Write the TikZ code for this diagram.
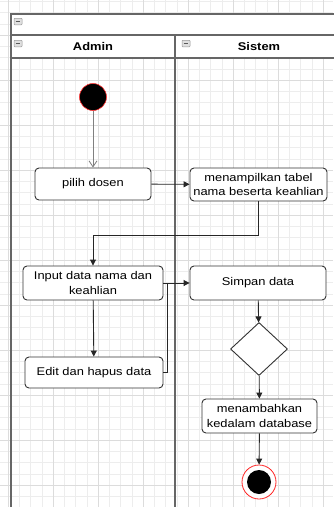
\documentclass[tikz,border=0pt]{standalone}
\usepackage{fontspec}
\setmainfont{Liberation Sans}
\newfontfamily\lab[FakeStretch=1.15]{Liberation Sans}
\usetikzlibrary{shapes.geometric,arrows.meta}
\definecolor{gridmin}{HTML}{EDEDED}
\definecolor{gridmaj}{HTML}{DCDCDC}
\definecolor{lanecol}{HTML}{666666}
\definecolor{boxcol}{HTML}{333333}
\tikzset{
  actbox/.style={draw=boxcol,line width=0.9pt,fill=white,rounded corners=4pt,align=center,
    font=\lab\fontsize{11.2}{14.5}\selectfont,text=black,inner sep=1pt},
  conn/.style={draw=black!85,line width=0.9pt,-{Triangle[length=6pt,width=6pt]}},
  lane/.style={draw=lanecol,line width=1.6pt},
  hdr/.style={font=\lab\bfseries\fontsize{11.2}{13}\selectfont,text=black},
  minbox/.style={draw=gray!80,fill=gray!25,line width=0.5pt,rounded corners=0.8pt,minimum width=8pt,minimum height=6.5pt,inner sep=0pt}
}
\begin{document}
\begin{tikzpicture}[x=1pt,y=-1pt]
\useasboundingbox[fill=white] (0,0) rectangle (333,507);
% grid
\foreach \i in {0,...,29} {
  \pgfmathsetmacro{\xx}{8+11.25*\i}
  \draw[gridmin,line width=0.5pt] (\xx,0) -- (\xx,507);
}
\foreach \i in {0,...,45} {
  \pgfmathsetmacro{\yy}{1.25+11.25*\i}
  \draw[gridmin,line width=0.5pt] (0,\yy) -- (333,\yy);
}
\foreach \i in {0,...,7} {
  \pgfmathsetmacro{\xx}{8+45*\i}
  \draw[gridmaj,line width=0.6pt] (\xx,0) -- (\xx,507);
}
\foreach \i in {0,...,11} {
  \pgfmathsetmacro{\yy}{35+45*(\i-1)}
  \draw[gridmaj,line width=0.6pt] (0,\yy) -- (333,\yy);
}
% pool
\fill[white] (11,14) rectangle (334,58);
\draw[lane] (334,14) -- (11,14) -- (11,508);
\draw[lane] (11,35) -- (334,35);
\draw[lane] (11,58) -- (334,58);
\draw[lane] (175,35) -- (175,508);
\node[minbox] (ic0) at (18,21.5) {};
\node[minbox] (ic1) at (18,43.5) {};
\node[minbox] (ic2) at (186,43.5) {};
\foreach \n in {ic0,ic1,ic2} \draw[gray!70!black,line width=0.6pt] ([xshift=1.8pt]\n.west) -- ([xshift=-1.8pt]\n.east);
\node[hdr] (hadmin) at (93,46) {Admin};
\node[hdr] (hsis) at (259,46) {Sistem};
% nodes
\node[circle,fill=black,draw=red!80,line width=0.6pt,minimum size=27pt,inner sep=0pt] (start) at (93,97) {};
\node[actbox,minimum width=116pt,minimum height=32pt] (pilih) at (93,184) {pilih dosen};
\node[actbox,minimum width=137pt,minimum height=33pt] (tampil) at (258.5,184.5) {menampilkan tabel\\nama beserta keahlian};
\node[actbox,minimum width=140pt,minimum height=34pt] (input) at (93,283) {Input data nama dan\\keahlian};
\node[actbox,minimum width=138pt,minimum height=31pt] (edit) at (94,372.5) {Edit dan hapus data};
\node[actbox,minimum width=136pt,minimum height=34pt] (simpan) at (258,283) {Simpan data};
\node[diamond,draw=boxcol,line width=0.9pt,fill=white,minimum width=57pt,minimum height=53pt,inner sep=0pt] (dec) at (259,349) {};
\node[actbox,minimum width=115pt,minimum height=34pt] (tambah) at (259.5,416) {menambahkan\\kedalam database};
\node[circle,fill=white,draw=red!85,line width=0.8pt,minimum size=34pt,inner sep=0pt] (endo) at (259,482) {};
\node[circle,fill=black,minimum size=24pt,inner sep=0pt] (endi) at (259,482) {};
% connectors
\coordinate (bend) at (93,235);
\coordinate (ej) at (167,283);
\draw[draw=gray,line width=0.8pt,-{Straight Barb[length=6pt,width=8pt]}] (start) -- (pilih);
\draw[conn] (pilih) -- (tampil);
\draw[conn] (tampil.south) |- (bend) -- (input.north);
\draw[conn] (input) -- (edit);
\draw[conn] (input.east) -- (simpan.west);
\draw[draw=black!85,line width=0.9pt] (edit.east) -| (ej);
\draw[conn] (simpan) -- (dec);
\draw[conn] (dec) -- (tambah);
\draw[conn] (tambah) -- (endo);
\end{tikzpicture}
\end{document}
